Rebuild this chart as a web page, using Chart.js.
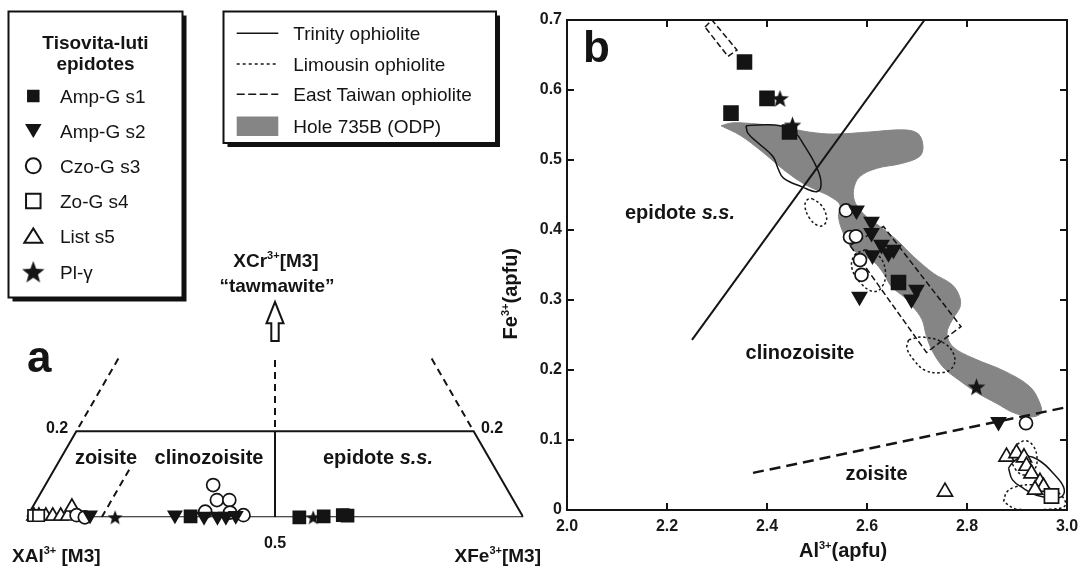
<!DOCTYPE html>
<html><head><meta charset="utf-8">
<script src="https://cdn.jsdelivr.net/npm/chart.js@4/dist/chart.umd.min.js"></script>
<style>
html,body{margin:0;padding:0;background:#fff;overflow:hidden}
#wrap{position:relative;width:1089px;height:567px;background:#fff}
canvas{position:absolute;left:0;top:0}
</style></head><body>
<div id="wrap"><canvas id="ca" width="1089" height="567"></canvas><canvas id="cb" width="1089" height="567"></canvas></div>
<script>
// ---------------- DATA: panel b (Al3+ vs Fe3+, apfu) ----------------
const xTickValues = [2.0, 2.2, 2.4, 2.6, 2.8, 3.0];
const xTickLabels = ['2.0', '2.2', '2.4', '2.6', '2.8', '3.0'];
const yTickValues = [0, 0.1, 0.2, 0.3, 0.4, 0.5, 0.6, 0.7];
const yTickLabels = ['0', '0.1', '0.2', '0.3', '0.4', '0.5', '0.6', '0.7'];

const seriesNames = ['Amp-G s1', 'Amp-G s2', 'Czo-G s3', 'Zo-G s4', 'List s5', 'Pl-\u03b3'];
const refNames = ['Trinity ophiolite', 'Limousin ophiolite', 'East Taiwan ophiolite', 'Hole 735B (ODP)'];

const s1Al = [2.328, 2.355, 2.400, 2.445, 2.663];
const s1Fe = [0.567, 0.640, 0.588, 0.540, 0.325];
const s2Al = [2.579, 2.609, 2.609, 2.629, 2.653, 2.611, 2.643, 2.699, 2.689, 2.585, 2.863];
const s2Fe = [0.428, 0.412, 0.396, 0.379, 0.372, 0.364, 0.367, 0.315, 0.301, 0.305, 0.126];
const s3Al = [2.558, 2.566, 2.578, 2.586, 2.589, 2.918];
const s3Fe = [0.428, 0.390, 0.391, 0.357, 0.336, 0.124];
const s4Al = [2.969];
const s4Fe = [0.020];
const s5Al = [2.879, 2.899, 2.914, 2.919, 2.929, 2.946, 2.953, 2.936, 2.756];
const s5Fe = [0.076, 0.081, 0.075, 0.063, 0.052, 0.040, 0.033, 0.029, 0.026];
const s6Al = [2.426, 2.451, 2.819];
const s6Fe = [0.588, 0.550, 0.176];

const hole735B = [[2.308,0.549],[2.330,0.553],[2.369,0.552],[2.426,0.548],[2.483,0.540],[2.533,0.537],[2.605,0.540],[2.676,0.543],[2.703,0.537],[2.712,0.519],[2.705,0.505],[2.669,0.495],[2.619,0.488],[2.585,0.476],[2.573,0.457],[2.577,0.438],[2.599,0.419],[2.626,0.405],[2.659,0.386],[2.693,0.362],[2.733,0.338],[2.770,0.322],[2.785,0.305],[2.786,0.290],[2.770,0.271],[2.760,0.252],[2.772,0.233],[2.812,0.217],[2.876,0.198],[2.926,0.176],[2.946,0.152],[2.948,0.138],[2.926,0.133],[2.890,0.140],[2.860,0.152],[2.819,0.168],[2.783,0.186],[2.755,0.202],[2.733,0.224],[2.719,0.248],[2.710,0.272],[2.690,0.292],[2.673,0.305],[2.649,0.319],[2.633,0.338],[2.613,0.355],[2.573,0.371],[2.553,0.395],[2.543,0.419],[2.546,0.436],[2.526,0.448],[2.499,0.457],[2.469,0.468],[2.430,0.488],[2.390,0.512],[2.347,0.535],[2.308,0.549]];
const trinityUpper = [[2.358,0.549],[2.383,0.550],[2.426,0.549],[2.455,0.540],[2.476,0.519],[2.497,0.493],[2.508,0.469],[2.501,0.455],[2.469,0.462],[2.433,0.474],[2.422,0.488],[2.412,0.505],[2.383,0.524],[2.362,0.538],[2.358,0.549]];
const trinityLower = [[2.883,0.060],[2.896,0.071],[2.919,0.077],[2.946,0.070],[2.973,0.052],[2.993,0.033],[2.991,0.020],[2.973,0.017],[2.939,0.021],[2.913,0.031],[2.891,0.043],[2.883,0.060]];
const limousin1 = [[2.490,0.445],[2.508,0.436],[2.519,0.419],[2.515,0.408],[2.503,0.406],[2.486,0.416],[2.476,0.433],[2.480,0.443],[2.490,0.445]];
const limousin2 = [[2.597,0.372],[2.625,0.362],[2.637,0.340],[2.631,0.320],[2.615,0.312],[2.590,0.322],[2.570,0.345],[2.575,0.364],[2.597,0.372]];
const limousin3 = [[2.683,0.243],[2.712,0.247],[2.755,0.238],[2.775,0.219],[2.769,0.202],[2.745,0.196],[2.715,0.200],[2.694,0.214],[2.680,0.231],[2.683,0.243]];
const limousin4 = [[2.900,0.094],[2.917,0.099],[2.932,0.092],[2.940,0.075],[2.935,0.058],[2.915,0.050],[2.897,0.058],[2.888,0.078],[2.900,0.094]];
const limousin5 = [[2.873,0.012],[2.880,0.026],[2.897,0.033],[2.930,0.036],[2.965,0.031],[2.990,0.020],[2.996,0.006],[2.965,0.001],[2.900,0.001],[2.873,0.012]];
const taiwanTop = [[2.276,0.690],[2.290,0.700],[2.340,0.657],[2.322,0.648],[2.276,0.690]];
const taiwanBand = [[2.566,0.378],[2.633,0.405],[2.788,0.262],[2.719,0.225],[2.566,0.378]];
const epClzBoundary = [[2.250,0.243],[2.715,0.700]];
const zoClzBoundary = [[2.372,0.053],[3.0,0.147]];

// ---------------- DATA: panel a (ternary XFe3+ / XCr3+ at M3) ----------------
const aS1Fe = [0.329, 0.549, 0.597, 0.634, 0.644];
const aS1Cr = [0.002, 0.000, 0.002, 0.005, 0.004];
const aS2Fe = [0.125, 0.296, 0.356, 0.383, 0.400, 0.419];
const aS2Cr = [0.005, 0.005, 0.002, 0.002, 0.002, 0.004];
const aS3Fe = [0.098, 0.117, 0.353, 0.363, 0.388, 0.338, 0.404, 0.434];
const aS3Cr = [0.005, 0.000, 0.013, 0.040, 0.040, 0.075, 0.011, 0.005];
const aS4Fe = [0.012, 0.022];
const aS4Cr = [0.004, 0.004];
const aS5Fe = [0.013, 0.023, 0.037, 0.051, 0.067, 0.081, 0.079];
const aS5Cr = [0.003, 0.003, 0.003, 0.003, 0.003, 0.003, 0.024];
const aS6Fe = [0.178, 0.577];
const aS6Cr = [0.000, 0.000];
const aFrame = [[0,0],[1,0],[0.8,0.2],[0,0.2],[0,0]];
const aMidSolid = [[0.5,0],[0.4,0.2]];
const aMidDash = [[0.395,0.21],[0.315,0.37]];
const aLeftDash = [[0,0.21],[0,0.37]];
const aRightDash = [[0.79,0.21],[0.63,0.37]];
const aZoDash = [[0.151,0],[0.151,0.118]];

// ---------------- helpers ----------------
const F = '"Liberation Sans", Arial, Helvetica, sans-serif';
const bf = s => 'bold ' + s + 'px ' + F;
const rf = s => s + 'px ' + F;
const INK = '#141414';
const GRAY = '#858585';

function xy(xs, ys) { return xs.map((v, i) => ({x: v, y: ys[i]})); }
function pairs(p) { return p.map(q => ({x: q[0], y: q[1]})); }
function tern(fe, cr) { return fe.map((f, i) => ({x: f + cr[i] / 2, y: cr[i]})); }
function ternPairs(p) { return p.map(q => ({x: q[0] + q[1] / 2, y: q[1]})); }

function starCanvas(d) {
  const c = document.createElement('canvas'); c.width = d; c.height = d;
  const g = c.getContext('2d');
  const R = d / 2 * 0.98, r = R * 0.42, cx = d / 2, cy = d / 2 + R * 0.095;
  g.beginPath();
  for (let i = 0; i < 10; i++) {
    const ang = -Math.PI / 2 + i * Math.PI / 5, rad = (i % 2) ? r : R;
    g.lineTo(cx + rad * Math.cos(ang), cy + rad * Math.sin(ang));
  }
  g.closePath(); g.fillStyle = INK; g.fill();
  return c;
}
const starB = starCanvas(19), starA = starCanvas(16), starL = starCanvas(24);

function lineDS(data, o) {
  return Object.assign({data, showLine: true, pointRadius: 0, pointHoverRadius: 0, fill: false,
    borderColor: INK, borderWidth: 1.5, tension: 0, order: 15}, o);
}
function ptDS(data, o) {
  return Object.assign({data, showLine: false, clip: false, pointBorderColor: INK, pointBorderWidth: 1.7,
    pointBackgroundColor: INK, pointHoverRadius: 0}, o);
}

function rich(ctx, parts, x, y, align) {
  let w = 0;
  for (const p of parts) { ctx.font = p[1]; w += ctx.measureText(p[0]).width; }
  let cx = align === 'center' ? x - w / 2 : (align === 'right' ? x - w : x);
  ctx.textAlign = 'left'; ctx.textBaseline = 'alphabetic';
  for (const p of parts) { ctx.font = p[1]; ctx.fillText(p[0], cx, y + (p[2] || 0)); cx += ctx.measureText(p[0]).width; }
}

function sym(ctx, kind, x, y, s) {
  ctx.save();
  ctx.lineWidth = 2; ctx.strokeStyle = INK; ctx.fillStyle = INK;
  if (kind === 'star') { ctx.drawImage(starL, x - starL.width / 2, y - starL.height / 2); ctx.restore(); return; }
  ctx.beginPath();
  if (kind === 'sq' || kind === 'osq') ctx.rect(x - s / 2, y - s / 2, s, s);
  else if (kind === 'dtri') { ctx.moveTo(x - s / 2, y - s * 0.4); ctx.lineTo(x + s / 2, y - s * 0.4); ctx.lineTo(x, y + s * 0.45); ctx.closePath(); }
  else if (kind === 'otri') { ctx.moveTo(x - s / 2, y + s * 0.38); ctx.lineTo(x + s / 2, y + s * 0.38); ctx.lineTo(x, y - s * 0.42); ctx.closePath(); }
  else if (kind === 'ocirc') ctx.arc(x, y, s / 2, 0, 2 * Math.PI);
  if (kind === 'sq' || kind === 'dtri') ctx.fill();
  else { ctx.fillStyle = '#fff'; ctx.fill(); ctx.stroke(); }
  ctx.restore();
}

function shadowBox(ctx, x, y, w, h) {
  ctx.fillStyle = '#111'; ctx.fillRect(x + 4, y + 4, w, h);
  ctx.fillStyle = '#fff'; ctx.fillRect(x, y, w, h);
  ctx.lineWidth = 2; ctx.strokeStyle = '#111'; ctx.strokeRect(x, y, w, h);
}

const common = {
  responsive: false, animation: false, events: [],
  plugins: {legend: {display: false}, tooltip: {enabled: false}}
};

// ---------------- panel a chart (ternary, legends) ----------------
const panelA = {
  id: 'panelA',
  afterDraw(chart) {
    const {ctx, scales: {x, y}} = chart;
    ctx.save();
    ctx.fillStyle = INK;
    const ax = x.getPixelForValue(0.5), yt = y.getPixelForValue(0.501), yh = y.getPixelForValue(0.451), yb = y.getPixelForValue(0.41);
    ctx.beginPath();
    ctx.moveTo(ax, yt); ctx.lineTo(ax + 8.5, yh); ctx.lineTo(ax + 3.7, yh); ctx.lineTo(ax + 3.7, yb);
    ctx.lineTo(ax - 3.7, yb); ctx.lineTo(ax - 3.7, yh); ctx.lineTo(ax - 8.5, yh); ctx.closePath();
    ctx.fillStyle = '#fff'; ctx.fill(); ctx.lineWidth = 2; ctx.strokeStyle = INK; ctx.stroke();
    ctx.fillStyle = INK;
    ctx.textAlign = 'center'; ctx.textBaseline = 'alphabetic';
    ctx.font = bf(16);
    ctx.fillText('0.2', 57, 433);
    ctx.fillText('0.2', 492, 433);
    ctx.fillText('0.5', 275, 548);
    const sup = bf(11);
    rich(ctx, [['XAl', bf(19)], ['3+', sup, -8], [' [M3]', bf(19)]], 12, 562, 'left');
    rich(ctx, [['XFe', bf(19)], ['3+', sup, -8], ['[M3]', bf(19)]], 541, 562, 'right');
    rich(ctx, [['XCr', bf(19)], ['3+', sup, -8], ['[M3]', bf(19)]], 276, 267, 'center');
    ctx.font = bf(19); ctx.textAlign = 'center';
    ctx.fillText('\u201ctawmawite\u201d', 277, 292);
    ctx.font = bf(20);
    ctx.fillText('zoisite', 106, 464);
    ctx.fillText('clinozoisite', 209, 464);
    rich(ctx, [['epidote ', bf(20)], ['s.s.', 'italic ' + bf(20)]], 378, 464, 'center');
    ctx.font = bf(44); ctx.textAlign = 'left';
    ctx.fillText('a', 27, 372);
    // legend 1
    shadowBox(ctx, 8.5, 11.5, 174, 286);
    ctx.fillStyle = INK; ctx.font = bf(19); ctx.textAlign = 'center';
    ctx.fillText('Tisovita-luti', 95.5, 48.5);
    ctx.fillText('epidotes', 95.5, 70);
    const kinds = ['sq', 'dtri', 'ocirc', 'osq', 'otri', 'star'];
    const sizes = [12.5, 16.5, 15, 14.5, 18, 24];
    const ys = [96, 130.5, 165.8, 201, 236, 271.7];
    for (let i = 0; i < 6; i++) {
      sym(ctx, kinds[i], 33.3, ys[i], sizes[i]);
      ctx.fillStyle = INK; ctx.font = rf(19); ctx.textAlign = 'left'; ctx.textBaseline = 'alphabetic';
      ctx.fillText(seriesNames[i], 60, ys[i] + 7);
    }
    // legend 2
    shadowBox(ctx, 223.5, 11.5, 272.5, 131.5);
    const ly = [33.3, 64, 94.3, 125.5];
    ctx.strokeStyle = INK; ctx.lineWidth = 1.6;
    const dashes = [[], [3, 3], [8, 3.5]];
    for (let i = 0; i < 3; i++) {
      ctx.setLineDash(dashes[i]); ctx.beginPath(); ctx.moveTo(236.7, ly[i]); ctx.lineTo(278.3, ly[i]); ctx.stroke();
    }
    ctx.setLineDash([]);
    ctx.fillStyle = GRAY; ctx.fillRect(236.7, 116.5, 41.6, 19.5);
    ctx.fillStyle = INK; ctx.font = rf(19); ctx.textAlign = 'left';
    for (let i = 0; i < 4; i++) ctx.fillText(refNames[i], 293.3, ly[i] + 7);
    ctx.restore();
  }
};

new Chart(document.getElementById('ca'), {
  type: 'scatter',
  data: {datasets: [
    lineDS(ternPairs(aFrame), {borderWidth: 2, order: 10}),
    lineDS(ternPairs(aMidSolid), {borderWidth: 2, order: 10}),
    lineDS(ternPairs(aMidDash), {borderWidth: 2, borderDash: [7, 5], order: 10}),
    lineDS(ternPairs(aLeftDash), {borderWidth: 2, borderDash: [7, 5], order: 10}),
    lineDS(ternPairs(aRightDash), {borderWidth: 2, borderDash: [7, 5], order: 10}),
    lineDS(ternPairs(aZoDash), {borderWidth: 2, borderDash: [7, 5], order: 10}),
    ptDS(tern(aS5Fe, aS5Cr), {pointStyle: 'triangle', pointRadius: 8, pointBackgroundColor: '#fff', order: 6}),
    ptDS(tern(aS4Fe, aS4Cr), {pointStyle: 'rect', pointRadius: 8, pointBackgroundColor: '#fff', order: 5}),
    ptDS(tern(aS3Fe, aS3Cr), {pointStyle: 'circle', pointRadius: 6.5, pointBackgroundColor: '#fff', order: 4}),
    ptDS(tern(aS2Fe, aS2Cr), {pointStyle: 'triangle', pointRotation: 180, pointRadius: 7.5, order: 3}),
    ptDS(tern(aS1Fe, aS1Cr), {pointStyle: 'rect', pointRadius: 8.5, order: 2}),
    ptDS(tern(aS6Fe, aS6Cr), {pointStyle: starA, order: 1})
  ]},
  options: Object.assign({}, common, {
    layout: {padding: {left: 26.7, right: 565.7, top: 87.3, bottom: 49.7}},
    scales: {
      x: {type: 'linear', min: 0, max: 1, display: false},
      y: {type: 'linear', min: 0, max: 1, display: false}
    }
  }),
  plugins: [panelA]
});

// ---------------- panel b chart ----------------
const panelB = {
  id: 'panelB',
  afterDatasetsDraw(chart) {
    const {ctx, chartArea: a, scales: {x, y}} = chart;
    ctx.save();
    ctx.strokeStyle = INK; ctx.lineWidth = 2;
    ctx.strokeRect(a.left, a.top, a.right - a.left, a.bottom - a.top);
    ctx.beginPath();
    for (const v of xTickValues) {
      const px = x.getPixelForValue(v);
      ctx.moveTo(px, a.bottom); ctx.lineTo(px, a.bottom - 7);
      ctx.moveTo(px, a.top); ctx.lineTo(px, a.top + 7);
    }
    for (const v of yTickValues) {
      const py = y.getPixelForValue(v);
      ctx.moveTo(a.left, py); ctx.lineTo(a.left + 7, py);
      ctx.moveTo(a.right, py); ctx.lineTo(a.right - 7, py);
    }
    ctx.stroke();
    ctx.fillStyle = INK;
    rich(ctx, [['epidote ', bf(20)], ['s.s.', 'italic ' + bf(20)]], x.getPixelForValue(2.226), y.getPixelForValue(0.426) + 7, 'center');
    ctx.font = bf(20); ctx.textAlign = 'center';
    ctx.fillText('clinozoisite', x.getPixelForValue(2.466), y.getPixelForValue(0.226) + 7);
    ctx.fillText('zoisite', x.getPixelForValue(2.619), y.getPixelForValue(0.053) + 7);
    ctx.font = bf(44); ctx.textAlign = 'left';
    ctx.fillText('b', 583, 62);
    const sup = bf(11);
    rich(ctx, [['Al', bf(20)], ['3+', sup, -8], ['(apfu)', bf(20)]], x.getPixelForValue(2.552), a.bottom + 47, 'center');
    ctx.save();
    ctx.translate(a.left - 50, y.getPixelForValue(0.309));
    ctx.rotate(-Math.PI / 2);
    rich(ctx, [['Fe', bf(20)], ['3+', sup, -8], ['(apfu)', bf(20)]], 0, 0, 'center');
    ctx.restore();
    ctx.restore();
  }
};

const tickFont = {family: F, size: 16, weight: 'bold'};
const labelFor = (vals, labs) => v => { const i = vals.findIndex(t => Math.abs(t - v) < 1e-9); return i < 0 ? '' : labs[i]; };

new Chart(document.getElementById('cb'), {
  type: 'scatter',
  data: {datasets: [
    lineDS(pairs(hole735B), {fill: 'shape', backgroundColor: GRAY, borderColor: GRAY, borderWidth: 1, tension: 0.35, order: 30}),
    lineDS(pairs(trinityUpper), {tension: 0.4}),
    lineDS(pairs(trinityLower), {tension: 0.4}),
    lineDS(pairs(limousin1), {borderDash: [2.5, 2.5], tension: 0.4}),
    lineDS(pairs(limousin2), {borderDash: [2.5, 2.5], tension: 0.4}),
    lineDS(pairs(limousin3), {borderDash: [2.5, 2.5], tension: 0.4}),
    lineDS(pairs(limousin4), {borderDash: [2.5, 2.5], tension: 0.4}),
    lineDS(pairs(limousin5), {borderDash: [2.5, 2.5], tension: 0.4}),
    lineDS(pairs(taiwanTop), {borderDash: [6, 3]}),
    lineDS(pairs(taiwanBand), {borderDash: [6, 3]}),
    lineDS(pairs(epClzBoundary), {borderWidth: 2}),
    lineDS(pairs(zoClzBoundary), {borderWidth: 2.5, borderDash: [11, 6]}),
    ptDS(xy(s5Al, s5Fe), {pointStyle: 'triangle', pointRadius: 8.7, pointBackgroundColor: '#fff', order: 6}),
    ptDS(xy(s4Al, s4Fe), {pointStyle: 'rect', pointRadius: 10, pointBackgroundColor: '#fff', order: 5}),
    ptDS(xy(s3Al, s3Fe), {pointStyle: 'circle', pointRadius: 6.5, pointBackgroundColor: '#fff', order: 4}),
    ptDS(xy(s2Al, s2Fe), {pointStyle: 'triangle', pointRotation: 180, pointRadius: 8, order: 3}),
    ptDS(xy(s1Al, s1Fe), {pointStyle: 'rect', pointRadius: 9.8, order: 1}),
    ptDS(xy(s6Al, s6Fe), {pointStyle: starB, order: 2})
  ]},
  options: Object.assign({}, common, {
    layout: {padding: {left: 500, right: 22, top: 20, bottom: 0}},
    scales: {
      x: {type: 'linear', min: 2.0, max: 3.0,
        afterBuildTicks: s => { s.ticks = xTickValues.map(v => ({value: v})); },
        afterFit: s => { s.height = 57; },
        ticks: {callback: labelFor(xTickValues, xTickLabels), font: tickFont, color: '#1a1a1a', padding: 7, maxRotation: 0, autoSkip: false},
        grid: {display: false, drawTicks: false}, border: {display: false}},
      y: {type: 'linear', min: 0, max: 0.7,
        afterBuildTicks: s => { s.ticks = yTickValues.map(v => ({value: v})); },
        afterFit: s => { s.width = 67; },
        ticks: {callback: labelFor(yTickValues, yTickLabels), font: tickFont, color: '#1a1a1a', padding: 5, autoSkip: false},
        grid: {display: false, drawTicks: false}, border: {display: false}}
    }
  }),
  plugins: [panelB]
});
</script>
</body></html>
